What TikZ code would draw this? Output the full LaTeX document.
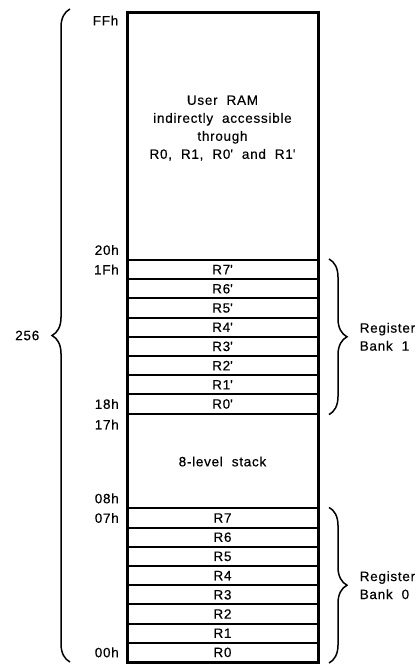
\documentclass[tikz,border=0pt]{standalone}
\usepackage{fontspec}
\setmainfont{Liberation Sans}[LetterSpace=5.4, WordSpace=2, FakeBold=0.4]
\usetikzlibrary{decorations.pathreplacing,positioning}

\begin{document}
\begin{tikzpicture}[x=1pt, y=-1pt, font=\fontsize{13.5}{18}\selectfont,
      cell/.style={draw, line width=2pt, minimum width=191pt,
                   minimum height=19.2pt, inner sep=0pt},
      frame/.style={draw, line width=3pt, minimum width=191pt, inner sep=0pt},
      addr/.style={inner sep=1pt},
      brc/.style={decorate, decoration={brace, amplitude=18pt}, line width=1.5pt}
    ]
    \useasboundingbox (0,0) rectangle (416,664);

    % register banks
    \foreach \i in {0,...,7}{
      \node[cell] (ra\i) at (222.5, 404.0-19.2*\i) {R\i\textquotesingle};
      \node[cell] (rb\i) at (222.5, 652.4-19.2*\i) {R\i};
    }

    \node[frame, minimum height=650pt] (mem) at (222.5,337) {};

    \node[align=center, addr] (ram) at (222.5,128)
          {User RAM\\indirectly accessible\\through\\R0, R1, R0\textquotesingle{} and R1\textquotesingle};
    \node[addr] (stk) at (222.5,461.5) {8-level stack};

    % addresses
    \node[addr, left=6pt of mem.north west, yshift=-10pt] (aFF) {FFh};
    \node[addr, left=6pt of ra7.north west, yshift=9pt] (a20) {20h};
    \node[addr, left=6pt of ra7] (a1F) {1Fh};
    \node[addr, left=6pt of ra0] (a18) {18h};
    \node[addr, left=6pt of ra0.south west, yshift=-10pt] (a17) {17h};
    \node[addr, left=6pt of rb7.north west, yshift=9pt] (a08) {08h};
    \node[addr, left=6pt of rb7] (a07) {07h};
    \node[addr, left=6pt of rb0] (a00) {00h};

    % braces
    \coordinate (lt) at (70,9);
    \coordinate (lb) at (70,662);
    \coordinate (b1t) at ([xshift=10pt]ra7.north east);
    \coordinate (b1b) at ([xshift=10pt]ra0.south east);
    \coordinate (b0t) at ([xshift=10pt]rb7.north east);
    \coordinate (b0b) at ([xshift=10pt]rb0.south east);

    \draw[brc] (lb) -- node[midway, left=29pt, addr] (total) {256} (lt);
    \draw[brc] (b1t) -- node[midway, right=29pt, addr, align=left] (bk1)
          {Register\\Bank 1} (b1b);
    \draw[brc] (b0t) -- node[midway, right=29pt, addr, align=left] (bk0)
          {Register\\Bank 0} (b0b);
\end{tikzpicture}
\end{document}
